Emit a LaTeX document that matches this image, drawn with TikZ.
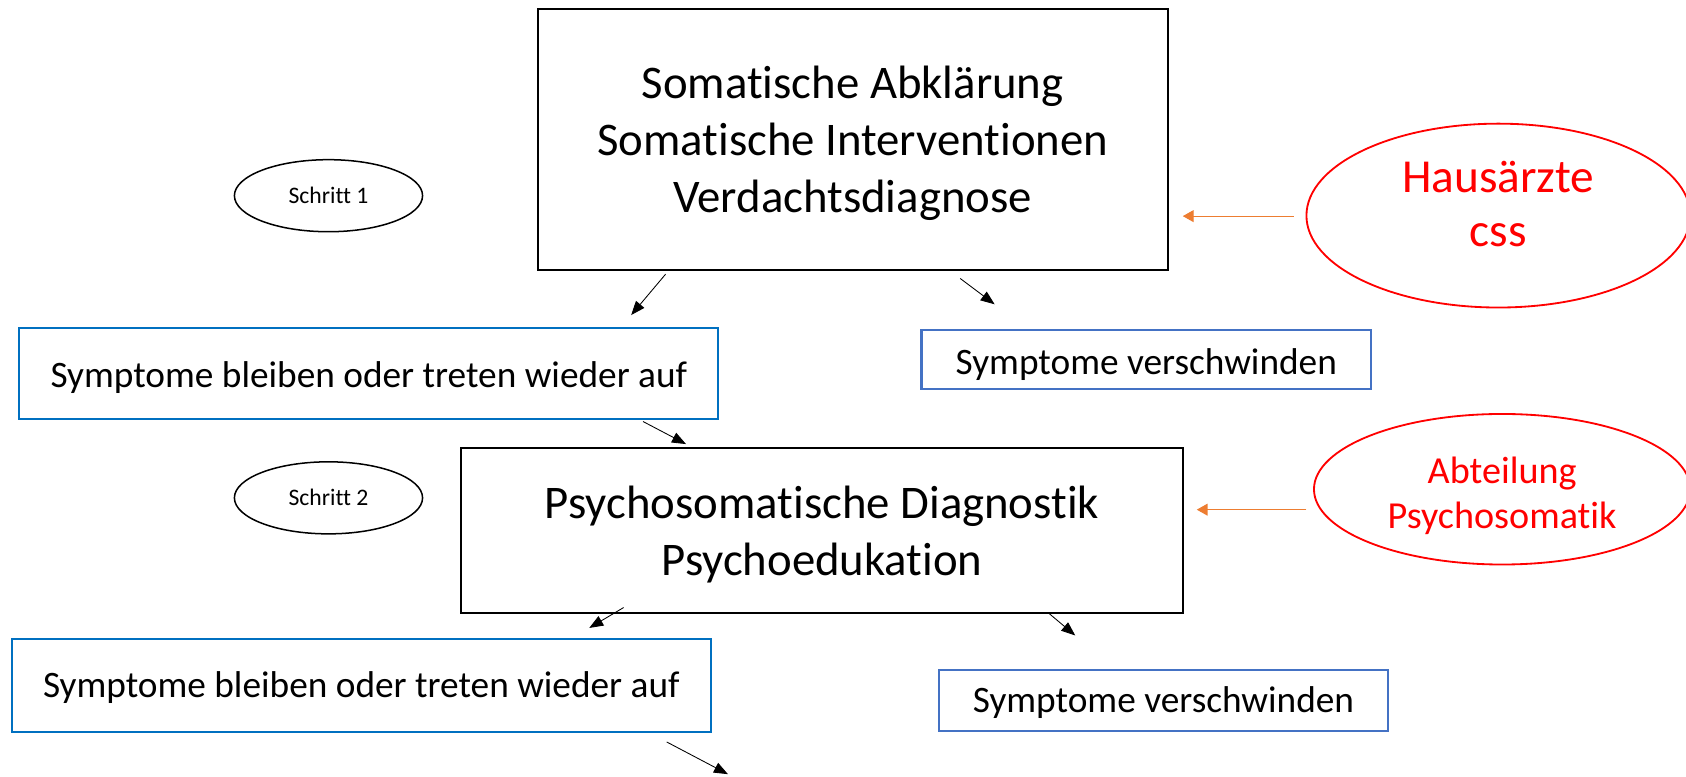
\documentclass[tikz,border=0pt]{standalone}
\usepackage{fontspec}
\setmainfont[Ligatures=NoCommon]{Carlito}
\usetikzlibrary{arrows.meta,shapes.geometric}
\definecolor{boxblue}{HTML}{0070C0}
\definecolor{boxblueb}{HTML}{4472C4}
\definecolor{accorange}{HTML}{ED7D31}
% lower a single line of text without changing its box
\newcommand{\lowertext}[2]{\raisebox{-#1}[\height][\depth]{#2}}
\begin{document}
\begin{tikzpicture}[x=1pt,y=-1pt,
  stage/.style={draw=black,line width=2pt,rectangle,inner sep=0pt},
  stagetext/.style={align=center,inner sep=0pt,font=\fontsize{43.5}{53}\selectfont},
  outcome/.style={draw=boxblue,line width=2pt,rectangle,align=center,inner sep=0pt,font=\fontsize{34.7}{40}\selectfont},
  outcomeb/.style={outcome,draw=boxblueb},
  steptag/.style={draw=black,line width=1.4pt,ellipse,inner sep=0pt,minimum width=175pt,minimum height=67pt,font=\fontsize{22}{26}\selectfont},
  actor/.style={draw=red,line width=1.7pt,ellipse,inner sep=0pt},
  actortext/.style={text=red,align=center,inner sep=0pt},
  flow/.style={-{Triangle[length=13pt,width=10pt]},line width=0.8pt,black},
  feed/.style={-{Triangle[length=10pt,width=11pt]},line width=1pt,accorange}]
\useasboundingbox (0,0) rectangle (1568,722);
\clip (0,0) rectangle (1568,722);

% step 1
\node[stage,minimum width=586pt,minimum height=243pt] (s1) at (793,129.5) {};
\node[stagetext] (s1txt) at ([yshift=-4pt]s1.center)
  {Somatische Abklärung\\Somatische Interventionen\\Verdachtsdiagnose};
\node[steptag] (t1) at (305.5,182) {Schritt 1};
\node[actor,minimum width=357pt,minimum height=171pt] (h) at (1393.5,200.5) {};
\node[actortext,font=\fontsize{44}{50}\selectfont] (htxt) at ([yshift=11pt]h.center) {Hausärzte\\css};
\node[outcome,minimum width=650pt,minimum height=85pt] (o1) at (343,347.5) {\lowertext{4pt}{Symptome bleiben oder treten wieder auf}};
\node[outcomeb,minimum width=418pt,minimum height=55pt] (v1) at (1066,334.5) {\lowertext{5pt}{Symptome verschwinden}};

% step 2
\node[stage,minimum width=671pt,minimum height=153pt] (s2) at (764.5,493.5) {};
\node[stagetext] (s2txt) at ([yshift=-4pt]s2.center)
  {Psychosomatische Diagnostik\\Psychoedukation};
\node[steptag] (t2) at (305.5,463) {Schritt 2};
\node[actor,minimum width=350pt,minimum height=140pt] (ap) at (1397,455) {};
\node[actortext,font=\fontsize{35.5}{42}\selectfont] (aptxt) at ([yshift=-6pt]ap.center) {Abteilung\\Psychosomatik};
\node[outcome,minimum width=650pt,minimum height=87pt] (o2) at (336,637.5) {\lowertext{2pt}{Symptome bleiben oder treten wieder auf}};
\node[outcomeb,minimum width=418pt,minimum height=57pt] (v2) at (1082,651.5) {\lowertext{2pt}{Symptome verschwinden}};

% arrow end points
\coordinate (a1s) at (619,255); \coordinate (a1e) at (587,293);
\coordinate (a2s) at (893,259); \coordinate (a2e) at (925,283);
\coordinate (a3s) at (598,392); \coordinate (a3e) at (638,413);
\coordinate (a4s) at (580,565); \coordinate (a4e) at (548,584);
\coordinate (a5s) at (975,570); \coordinate (a5e) at (1000,591);
\coordinate (a6s) at (620,690); \coordinate (a6e) at (677,720);
\coordinate (f1s) at (1203,201); \coordinate (f1e) at (1100,201);
\coordinate (f2s) at (1215,474); \coordinate (f2e) at (1113,474);

\draw[flow] (a1s) -- (a1e);
\draw[flow] (a2s) -- (a2e);
\draw[flow] (a3s) -- (a3e);
\draw[flow] (a4s) -- (a4e);
\draw[flow] (a5s) -- (a5e);
\draw[flow] (a6s) -- (a6e);
\draw[feed] (f1s) -- (f1e);
\draw[feed] (f2s) -- (f2e);
\end{tikzpicture}
\end{document}
